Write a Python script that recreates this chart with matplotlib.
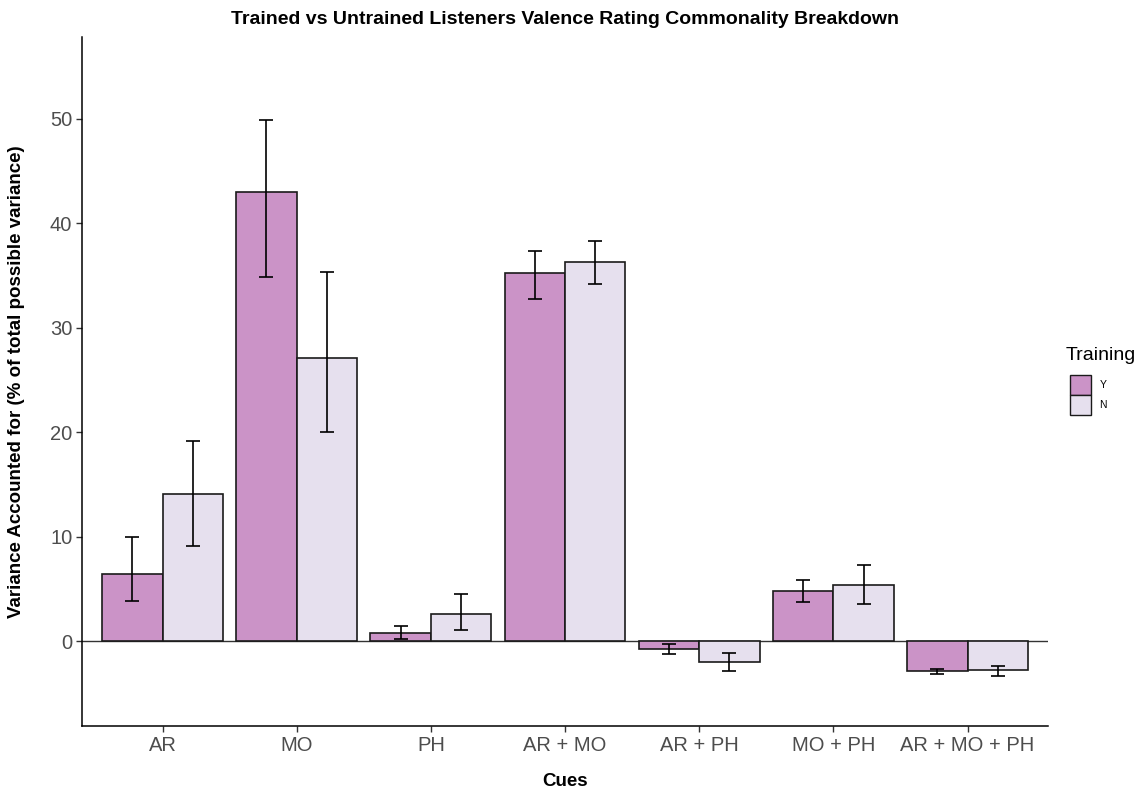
import numpy as np
import matplotlib
matplotlib.use("Agg")
import matplotlib.pyplot as plt
from matplotlib.patches import Patch

plt.rcParams['font.family'] = ['Liberation Sans', 'DejaVu Sans']

cues = ["AR", "MO", "PH", "AR + MO", "AR + PH", "MO + PH", "AR + MO + PH"]
groups = ["Y", "N"]

trained_mean = [6.45, 43.05, 0.75, 35.2, -0.77, 4.8, -2.85]
trained_lo = [3.85, 34.9, 0.17, 32.8, -1.25, 3.7, -3.12]
trained_hi = [9.95, 49.9, 1.47, 37.4, -0.32, 5.85, -2.68]

untrained_mean = [14.05, 27.15, 2.6, 36.3, -2.03, 5.35, -2.78]
untrained_lo = [9.1, 20.0, 1.05, 34.2, -2.87, 3.55, -3.32]
untrained_hi = [19.15, 35.3, 4.55, 38.3, -1.18, 7.3, -2.36]

fills = {"Y": "#CB93C7", "N": "#E6E0EE"}

W, H = 1139, 790
fig = plt.figure(figsize=(W / 100, H / 100), dpi=100)
ax = fig.add_axes([82 / W, 1 - 726 / H, (1048 - 82) / W, (726 - 37) / H])

x = np.arange(1, len(cues) + 1)
width = 0.45
series = [
    ("Y", trained_mean, trained_lo, trained_hi, -width / 2),
    ("N", untrained_mean, untrained_lo, untrained_hi, width / 2),
]

ax.axhline(0, color="#333333", lw=1.0, zorder=1)

for name, mean, lo, hi, off in series:
    mean = np.array(mean)
    err = np.vstack([mean - np.array(lo), np.array(hi) - mean])
    ax.bar(x + off, mean, width=width, color=fills[name], edgecolor="#1a1a1a",
           linewidth=1.2, zorder=2)
    ax.errorbar(x + off, mean, yerr=err, fmt="none", ecolor="black",
                elinewidth=1.2, capsize=5, capthick=1.2, zorder=3)

ax.set_xlim(0.4, 7.6)
ax.set_ylim(-8.14, 57.85)
ax.set_xticks(x)
ax.set_xticklabels(cues)
ax.set_yticks([0, 10, 20, 30, 40, 50])

for side in ["top", "right"]:
    ax.spines[side].set_visible(False)
for side in ["left", "bottom"]:
    ax.spines[side].set_linewidth(1.1)
    ax.spines[side].set_color("black")

ax.tick_params(axis="both", labelsize=14.5, labelcolor="#4D4D4D", color="#333333",
               length=4, width=1, pad=3)

ax.set_xlabel("Cues", fontsize=13.5, fontweight="bold")
ax.xaxis.set_label_coords(0.5, (726 - 773) / (726 - 37))
ax.set_ylabel("Variance Accounted for (% of total possible variance)", fontsize=13.5,
              fontweight="bold")
ax.yaxis.set_label_coords((25 - 82) / (1048 - 82), 0.5)

fig.text(565 / W, 1 - 19 / H, "Trained vs Untrained Listeners Valence Rating Commonality Breakdown",
         ha="center", va="center", fontsize=14, fontweight="bold")

handles = [Patch(facecolor=fills[g], edgecolor="#1a1a1a", linewidth=1.0, label=g) for g in groups]
leg = fig.legend(handles=handles, title="Training", loc="upper left",
                 bbox_to_anchor=(1066 / W, 1 - 347 / H), frameon=False,
                 fontsize=7.5, title_fontsize=14, handlelength=2.0, handleheight=2.6,
                 handletextpad=1.2, labelspacing=0.0, borderaxespad=0, borderpad=0)
leg._legend_box.align = "left"
leg._legend_box.sep = 8
for h in leg.legend_handles:
    h.set_x(h.get_x() + 3)

fig.savefig("out.png", dpi=100)
